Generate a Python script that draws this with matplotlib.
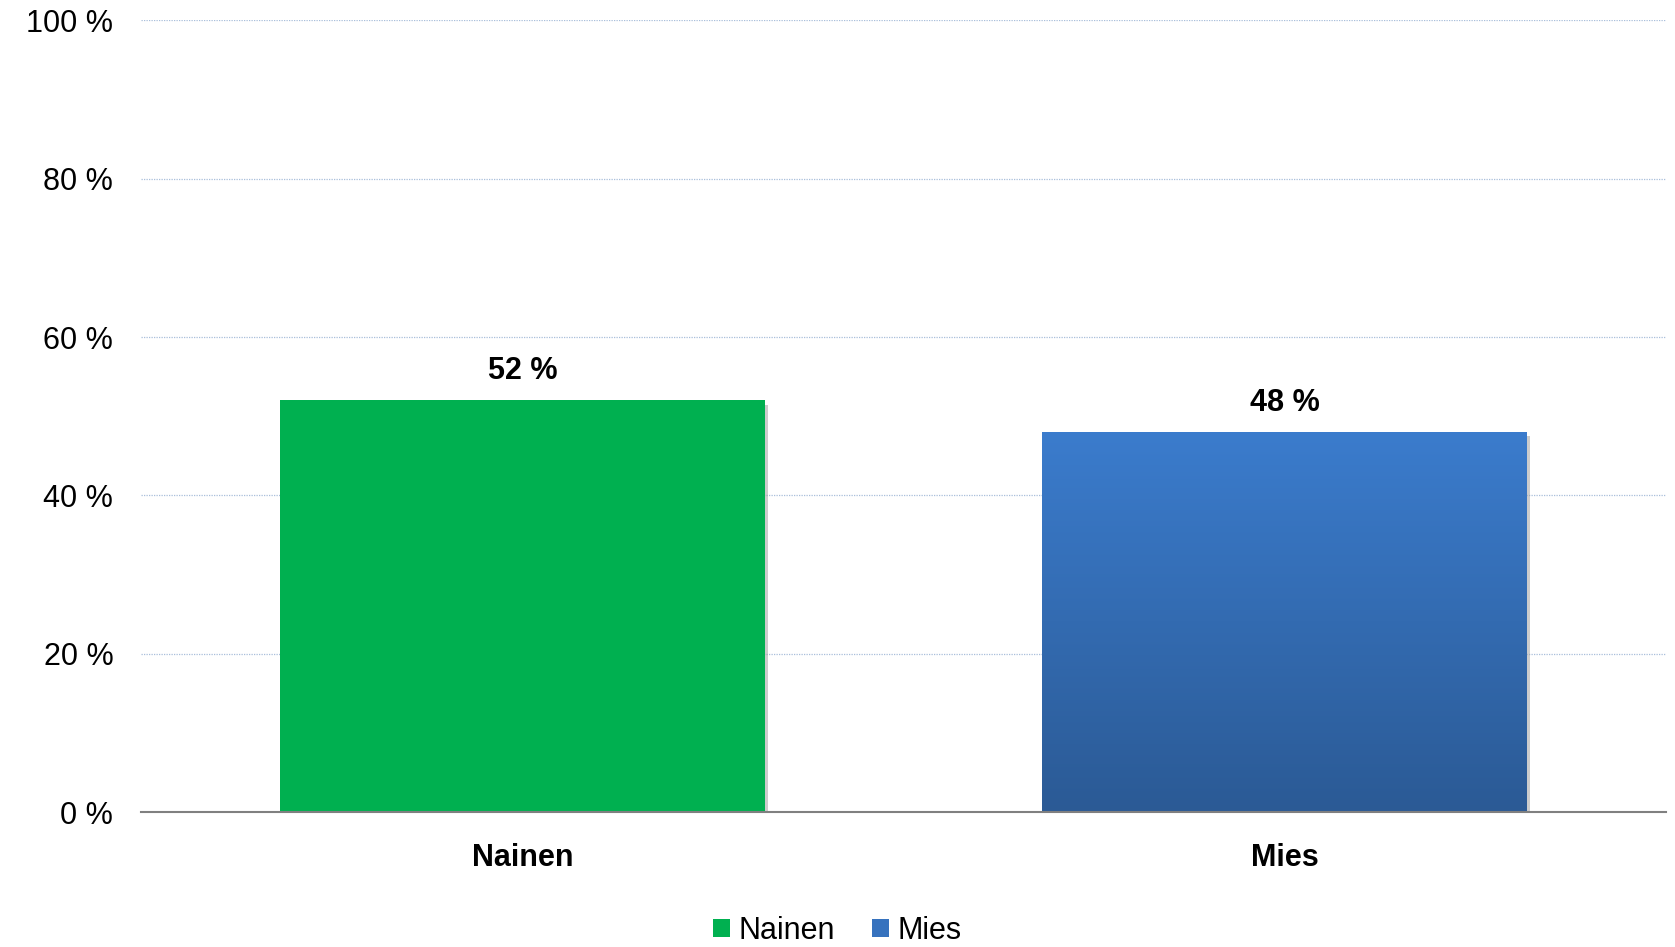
import numpy as np
import matplotlib.pyplot as plt
import matplotlib.patheffects as pe
from matplotlib.patches import Patch

plt.rcParams["font.family"] = ["Liberation Sans", "DejaVu Sans"]

categories = ["Nainen", "Mies"]
values = [52, 48]
colors = ["#00B050", "#3672BE"]
yticks = [0, 20, 40, 60, 80, 100]
ytick_labels = ["0 %", "20 %", "40 %", "60 %", "80 %", "100 %"]

fig = plt.figure(figsize=(16.75, 9.47), dpi=100)
ax = fig.add_axes([0.0842, 0.1425, 0.9105, 0.836])

x = np.arange(len(categories))
shadow = [pe.SimplePatchShadow(offset=(2, -3), shadow_rgbFace="#9a9a9a", alpha=0.5), pe.Normal()]
bars = ax.bar(x, values, width=0.636, color=colors, zorder=3, path_effects=shadow)

# gradient fill on the "Mies" bar
b = bars[1]
grad = np.linspace(0, 1, 256).reshape(-1, 1)
top = np.array([0x3B, 0x7C, 0xCD]) / 255
bot = np.array([0x2B, 0x5A, 0x95]) / 255
img = top * (1 - grad[..., None]) + bot * grad[..., None]
img = img.reshape(256, 1, 3)
im = ax.imshow(img, extent=[b.get_x(), b.get_x() + b.get_width(), 0, b.get_height()],
               aspect="auto", origin="upper", zorder=4)
im.set_clip_path(b)

for xi, v in zip(x, values):
    ax.text(xi, v + 1.8, f"{v} %", ha="center", va="bottom", fontsize=22,
            fontweight="bold", zorder=5)

ax.set_xlim(-0.5, 1.5)
ax.set_ylim(0, 100)
ax.set_yticks(yticks)
ax.set_yticklabels(ytick_labels, fontsize=22)
ax.set_xticks(x)
ax.set_xticklabels(categories, fontsize=22, fontweight="bold")
ax.tick_params(axis="both", length=0)
ax.tick_params(axis="y", pad=20)
ax.tick_params(axis="x", pad=22)

ax.grid(axis="y", color="#A9BFDB", linestyle=(0, (1, 1)), linewidth=0.9, zorder=0)
for s in ["top", "right", "left"]:
    ax.spines[s].set_visible(False)
ax.spines["bottom"].set_color("#808080")
ax.spines["bottom"].set_linewidth(1.5)
ax.spines["bottom"].set_zorder(6)

handles = [Patch(facecolor=colors[0]), Patch(facecolor=colors[1])]
fig.legend(handles, categories, loc="lower center", bbox_to_anchor=(0.5, -0.028), ncol=2,
           frameon=False, fontsize=22, handlelength=0.55, handleheight=0.55,
           handletextpad=0.3, columnspacing=1.2)

fig.savefig("out.png", dpi=100)
